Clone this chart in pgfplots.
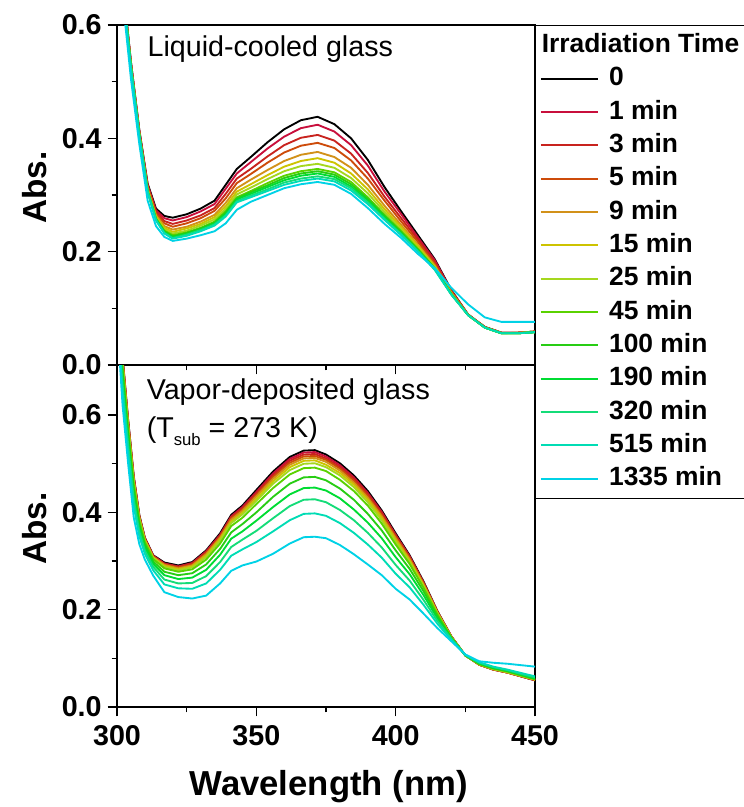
\documentclass[border=0pt]{standalone}
\usepackage{fontspec}
\setmainfont{Liberation Sans}
\usepackage{pgfplots}
\usepackage{pgfplotstable}
\pgfplotsset{compat=1.18}

\definecolor{tZero}{RGB}{0,0,0}
\definecolor{tOne}{RGB}{200,15,60}
\definecolor{tThree}{RGB}{200,35,30}
\definecolor{tFive}{RGB}{205,75,10}
\definecolor{tNine}{RGB}{210,145,25}
\definecolor{tFifteen}{RGB}{205,195,0}
\definecolor{tTwentyfive}{RGB}{165,215,30}
\definecolor{tFortyfive}{RGB}{90,210,0}
\definecolor{tHundred}{RGB}{40,205,20}
\definecolor{tOneninety}{RGB}{0,220,50}
\definecolor{tThreetwenty}{RGB}{20,220,120}
\definecolor{tFivefifteen}{RGB}{0,220,180}
\definecolor{tLong}{RGB}{0,210,230}

% liquid-cooled glass, s0 = 0 min ... s12 = 1335 min
\pgfplotstableread{
x s0 s1 s2 s3 s4 s5 s6 s7 s8 s9 s10 s11 s12
300 0.780 0.779 0.777 0.776 0.774 0.773 0.772 0.772 0.771 0.771 0.770 0.770 0.750
303 0.630 0.629 0.627 0.626 0.624 0.623 0.622 0.622 0.621 0.621 0.620 0.620 0.600
305 0.535 0.534 0.532 0.531 0.529 0.528 0.527 0.527 0.526 0.526 0.525 0.525 0.505
308 0.415 0.414 0.412 0.411 0.409 0.408 0.407 0.407 0.406 0.406 0.405 0.405 0.390
311 0.320 0.318 0.316 0.314 0.311 0.310 0.309 0.307 0.307 0.306 0.306 0.305 0.290
314 0.276 0.273 0.270 0.267 0.264 0.262 0.260 0.258 0.258 0.257 0.256 0.255 0.245
317 0.263 0.259 0.254 0.250 0.245 0.242 0.239 0.237 0.236 0.234 0.233 0.232 0.226
320 0.260 0.255 0.249 0.244 0.239 0.235 0.232 0.229 0.227 0.226 0.224 0.223 0.219
325 0.266 0.261 0.255 0.250 0.244 0.241 0.237 0.234 0.233 0.231 0.230 0.228 0.223
330 0.276 0.271 0.264 0.259 0.253 0.249 0.246 0.242 0.241 0.239 0.238 0.236 0.229
335 0.290 0.284 0.277 0.272 0.265 0.261 0.257 0.253 0.251 0.250 0.248 0.246 0.236
339 0.318 0.311 0.302 0.294 0.286 0.280 0.275 0.271 0.269 0.266 0.264 0.262 0.250
343 0.346 0.338 0.329 0.321 0.312 0.306 0.301 0.296 0.294 0.292 0.289 0.287 0.274
348 0.367 0.358 0.346 0.337 0.327 0.319 0.313 0.307 0.305 0.302 0.299 0.296 0.288
354 0.393 0.382 0.368 0.357 0.344 0.335 0.328 0.321 0.317 0.314 0.310 0.307 0.300
360 0.416 0.403 0.388 0.375 0.360 0.350 0.342 0.334 0.330 0.326 0.322 0.318 0.312
366 0.432 0.418 0.401 0.387 0.371 0.360 0.351 0.342 0.338 0.334 0.329 0.325 0.319
372 0.438 0.424 0.406 0.392 0.376 0.365 0.355 0.346 0.342 0.338 0.333 0.329 0.323
378 0.425 0.412 0.396 0.383 0.367 0.357 0.348 0.340 0.336 0.332 0.328 0.324 0.318
384 0.400 0.388 0.373 0.361 0.348 0.338 0.330 0.323 0.319 0.315 0.312 0.308 0.302
390 0.362 0.352 0.339 0.329 0.318 0.310 0.303 0.296 0.293 0.290 0.287 0.284 0.277
396 0.314 0.306 0.297 0.290 0.281 0.275 0.270 0.265 0.263 0.261 0.258 0.256 0.249
402 0.271 0.266 0.259 0.253 0.247 0.243 0.239 0.236 0.234 0.232 0.231 0.229 0.224
408 0.229 0.225 0.221 0.217 0.212 0.210 0.207 0.205 0.203 0.202 0.201 0.200 0.196
414 0.187 0.185 0.181 0.179 0.176 0.174 0.173 0.171 0.170 0.170 0.169 0.168 0.171
420 0.132 0.131 0.130 0.129 0.127 0.127 0.126 0.125 0.125 0.125 0.124 0.124 0.136
426 0.089 0.089 0.089 0.089 0.088 0.088 0.088 0.088 0.088 0.088 0.088 0.088 0.107
432 0.067 0.067 0.067 0.067 0.066 0.066 0.066 0.066 0.066 0.066 0.066 0.066 0.084
438 0.057 0.057 0.057 0.057 0.056 0.056 0.056 0.056 0.056 0.056 0.056 0.056 0.076
444 0.057 0.057 0.057 0.057 0.057 0.056 0.056 0.056 0.056 0.056 0.056 0.056 0.076
450 0.059 0.059 0.059 0.059 0.059 0.058 0.058 0.058 0.058 0.058 0.058 0.058 0.076
}\lcg

% vapor-deposited glass (Tsub = 273 K)
\pgfplotstableread{
x s0 s1 s2 s3 s4 s5 s6 s7 s8 s9 s10 s11 s12
300 0.860 0.858 0.857 0.856 0.855 0.853 0.851 0.848 0.841 0.834 0.826 0.816 0.800
302 0.720 0.717 0.715 0.713 0.711 0.708 0.705 0.700 0.689 0.677 0.663 0.647 0.620
304 0.590 0.588 0.586 0.584 0.582 0.579 0.576 0.572 0.562 0.551 0.539 0.524 0.500
306 0.475 0.473 0.471 0.469 0.467 0.465 0.462 0.458 0.449 0.438 0.427 0.413 0.390
308 0.395 0.393 0.392 0.391 0.390 0.388 0.386 0.383 0.376 0.369 0.361 0.351 0.335
310 0.348 0.347 0.346 0.345 0.344 0.343 0.341 0.339 0.334 0.329 0.322 0.315 0.303
313 0.312 0.311 0.310 0.309 0.308 0.307 0.306 0.304 0.299 0.294 0.288 0.281 0.270
317 0.297 0.295 0.294 0.293 0.292 0.290 0.288 0.285 0.278 0.271 0.262 0.252 0.236
322 0.291 0.289 0.288 0.287 0.285 0.283 0.281 0.278 0.271 0.263 0.254 0.244 0.226
327 0.298 0.296 0.295 0.293 0.291 0.289 0.287 0.283 0.275 0.266 0.255 0.243 0.223
332 0.322 0.320 0.318 0.316 0.314 0.311 0.308 0.303 0.293 0.282 0.269 0.254 0.229
337 0.357 0.354 0.352 0.350 0.348 0.345 0.342 0.336 0.325 0.313 0.298 0.282 0.254
341 0.395 0.392 0.390 0.388 0.385 0.381 0.378 0.372 0.359 0.346 0.329 0.311 0.280
345 0.414 0.411 0.408 0.406 0.403 0.399 0.396 0.389 0.376 0.361 0.344 0.324 0.291
350 0.446 0.442 0.439 0.436 0.433 0.428 0.424 0.417 0.400 0.383 0.362 0.339 0.299
356 0.484 0.480 0.476 0.473 0.469 0.464 0.459 0.450 0.432 0.411 0.388 0.361 0.315
362 0.514 0.510 0.506 0.502 0.498 0.493 0.487 0.478 0.459 0.437 0.413 0.384 0.336
367 0.527 0.523 0.519 0.515 0.511 0.506 0.500 0.491 0.472 0.450 0.426 0.397 0.349
371 0.528 0.524 0.520 0.516 0.512 0.507 0.501 0.492 0.473 0.451 0.427 0.398 0.350
375 0.519 0.515 0.511 0.508 0.504 0.498 0.493 0.485 0.466 0.445 0.421 0.393 0.347
380 0.501 0.497 0.493 0.490 0.486 0.481 0.476 0.467 0.449 0.429 0.405 0.378 0.333
385 0.476 0.472 0.469 0.465 0.461 0.457 0.452 0.444 0.426 0.406 0.384 0.358 0.314
390 0.444 0.440 0.437 0.434 0.430 0.426 0.421 0.414 0.397 0.379 0.358 0.334 0.293
395 0.404 0.401 0.398 0.395 0.392 0.388 0.384 0.377 0.363 0.347 0.328 0.307 0.271
400 0.357 0.354 0.352 0.350 0.347 0.343 0.340 0.334 0.322 0.308 0.292 0.274 0.243
405 0.312 0.310 0.308 0.306 0.304 0.301 0.298 0.294 0.284 0.273 0.260 0.246 0.221
410 0.258 0.256 0.255 0.254 0.252 0.250 0.248 0.245 0.238 0.230 0.220 0.210 0.192
415 0.197 0.196 0.195 0.195 0.194 0.193 0.192 0.190 0.186 0.182 0.177 0.171 0.162
420 0.145 0.145 0.145 0.144 0.144 0.144 0.143 0.143 0.142 0.141 0.140 0.138 0.135
425 0.106 0.106 0.106 0.106 0.106 0.106 0.106 0.106 0.106 0.107 0.107 0.107 0.108
430 0.087 0.087 0.087 0.087 0.087 0.088 0.088 0.088 0.089 0.090 0.091 0.092 0.094
435 0.077 0.077 0.077 0.077 0.078 0.078 0.078 0.079 0.080 0.081 0.082 0.083 0.091
440 0.071 0.071 0.071 0.071 0.071 0.072 0.072 0.073 0.074 0.075 0.076 0.077 0.089
445 0.063 0.063 0.063 0.063 0.064 0.064 0.064 0.065 0.066 0.067 0.068 0.070 0.086
450 0.055 0.055 0.055 0.056 0.056 0.056 0.057 0.057 0.058 0.059 0.061 0.063 0.083
}\vdg

\pgfplotsset{
  panel/.style={
    scale only axis, width=313.5pt,
    xmin=300, xmax=450, ymin=0,
    xtick={300,350,400,450}, minor x tick num=1,
    ytick={0,0.2,0.4,0.6}, minor y tick num=1,
    tick align=outside, xtick pos=bottom, ytick pos=left,
    major tick length=7pt, minor tick length=4pt,
    axis line style={line width=1.1pt},
    every tick/.style={black, line width=1.1pt},
    ticklabel style={font=\bfseries\fontsize{21.5}{21.5}\selectfont},
    /pgf/number format/assume math mode=true,
    yticklabel style={/pgf/number format/fixed,
      /pgf/number format/fixed zerofill, /pgf/number format/precision=1,
      xshift=-1pt},
    xticklabel style={yshift=-3pt},
    every axis y label/.style={at={(axis description cs:0,0.5)},
      xshift=-61.5pt, yshift=5.5pt, rotate=90, anchor=center,
      font=\bfseries\fontsize{25}{25}\selectfont},
    every axis plot/.append style={line width=1.4pt, line join=round, no markers},
  },
}

\begin{document}
\begin{tikzpicture}
\path[use as bounding box] (0,0) rectangle (557.25pt,-605.25pt);

\begin{axis}[panel,
    at={(87.75pt,-18.75pt)}, anchor=north west,
    height=255pt, ymax=0.6,
    xticklabels={},
    ylabel={Abs.},
    legend cell align=left,
    legend image code/.code={\draw[line width=1.4pt,#1] (0pt,0pt) -- (43pt,0pt);},
    legend style={at={(1,1)}, anchor=north west, draw=black,
      font=\bfseries\fontsize{19.8}{19.8}\selectfont,
      inner xsep=3.5pt, inner ysep=6pt, row sep=7pt, column sep=7.5pt,
      nodes={inner sep=0pt, text height=14.5pt, text depth=3.5pt}},
  ]
  \addlegendimage{empty legend}
  \addlegendentry{\hspace*{-50.5pt}Irradiation Time}
  \addplot[color=tZero]        table[x=x,y=s0]  {\lcg}; \addlegendentry{0}
  \addplot[color=tOne]         table[x=x,y=s1]  {\lcg}; \addlegendentry{1 min}
  \addplot[color=tThree]       table[x=x,y=s2]  {\lcg}; \addlegendentry{3 min}
  \addplot[color=tFive]        table[x=x,y=s3]  {\lcg}; \addlegendentry{5 min}
  \addplot[color=tNine]        table[x=x,y=s4]  {\lcg}; \addlegendentry{9 min}
  \addplot[color=tFifteen]     table[x=x,y=s5]  {\lcg}; \addlegendentry{15 min}
  \addplot[color=tTwentyfive]  table[x=x,y=s6]  {\lcg}; \addlegendentry{25 min}
  \addplot[color=tFortyfive]   table[x=x,y=s7]  {\lcg}; \addlegendentry{45 min}
  \addplot[color=tHundred]     table[x=x,y=s8]  {\lcg}; \addlegendentry{100 min}
  \addplot[color=tOneninety]   table[x=x,y=s9]  {\lcg}; \addlegendentry{190 min}
  \addplot[color=tThreetwenty] table[x=x,y=s10] {\lcg}; \addlegendentry{320 min}
  \addplot[color=tFivefifteen] table[x=x,y=s11] {\lcg}; \addlegendentry{515 min}
  \addplot[color=tLong]        table[x=x,y=s12] {\lcg}; \addlegendentry{1335 min}
  \node[anchor=base west, font=\fontsize{21.5}{21.5}\selectfont]
    at (rel axis cs:0.062,0.906) {Liquid-cooled glass};
\end{axis}

\begin{axis}[panel,
    at={(87.75pt,-273.75pt)}, anchor=north west,
    height=256.5pt, ymax=0.703,
    ylabel={Abs.},
    xlabel={Wavelength (nm)},
    every axis x label/.style={at={(axis description cs:0.5,0)},
      xshift=2pt, yshift=-66pt, anchor=base,
      font=\bfseries\fontsize{26}{26}\selectfont},
  ]
  \addplot[color=tZero]        table[x=x,y=s0]  {\vdg};
  \addplot[color=tOne]         table[x=x,y=s1]  {\vdg};
  \addplot[color=tThree]       table[x=x,y=s2]  {\vdg};
  \addplot[color=tFive]        table[x=x,y=s3]  {\vdg};
  \addplot[color=tNine]        table[x=x,y=s4]  {\vdg};
  \addplot[color=tFifteen]     table[x=x,y=s5]  {\vdg};
  \addplot[color=tTwentyfive]  table[x=x,y=s6]  {\vdg};
  \addplot[color=tFortyfive]   table[x=x,y=s7]  {\vdg};
  \addplot[color=tHundred]     table[x=x,y=s8]  {\vdg};
  \addplot[color=tOneninety]   table[x=x,y=s9]  {\vdg};
  \addplot[color=tThreetwenty] table[x=x,y=s10] {\vdg};
  \addplot[color=tFivefifteen] table[x=x,y=s11] {\vdg};
  \addplot[color=tLong]        table[x=x,y=s12] {\vdg};
  \node[anchor=base west, font=\fontsize{21.5}{21.5}\selectfont]
    at (rel axis cs:0.06,0.898) {Vapor-deposited glass};
  \node[anchor=base west, font=\fontsize{21.5}{21.5}\selectfont]
    at (rel axis cs:0.06,0.789)
    {(T\raisebox{-6pt}{\fontsize{12.5}{12.5}\selectfont sub} = 273 K)};
\end{axis}
\end{tikzpicture}
\end{document}
